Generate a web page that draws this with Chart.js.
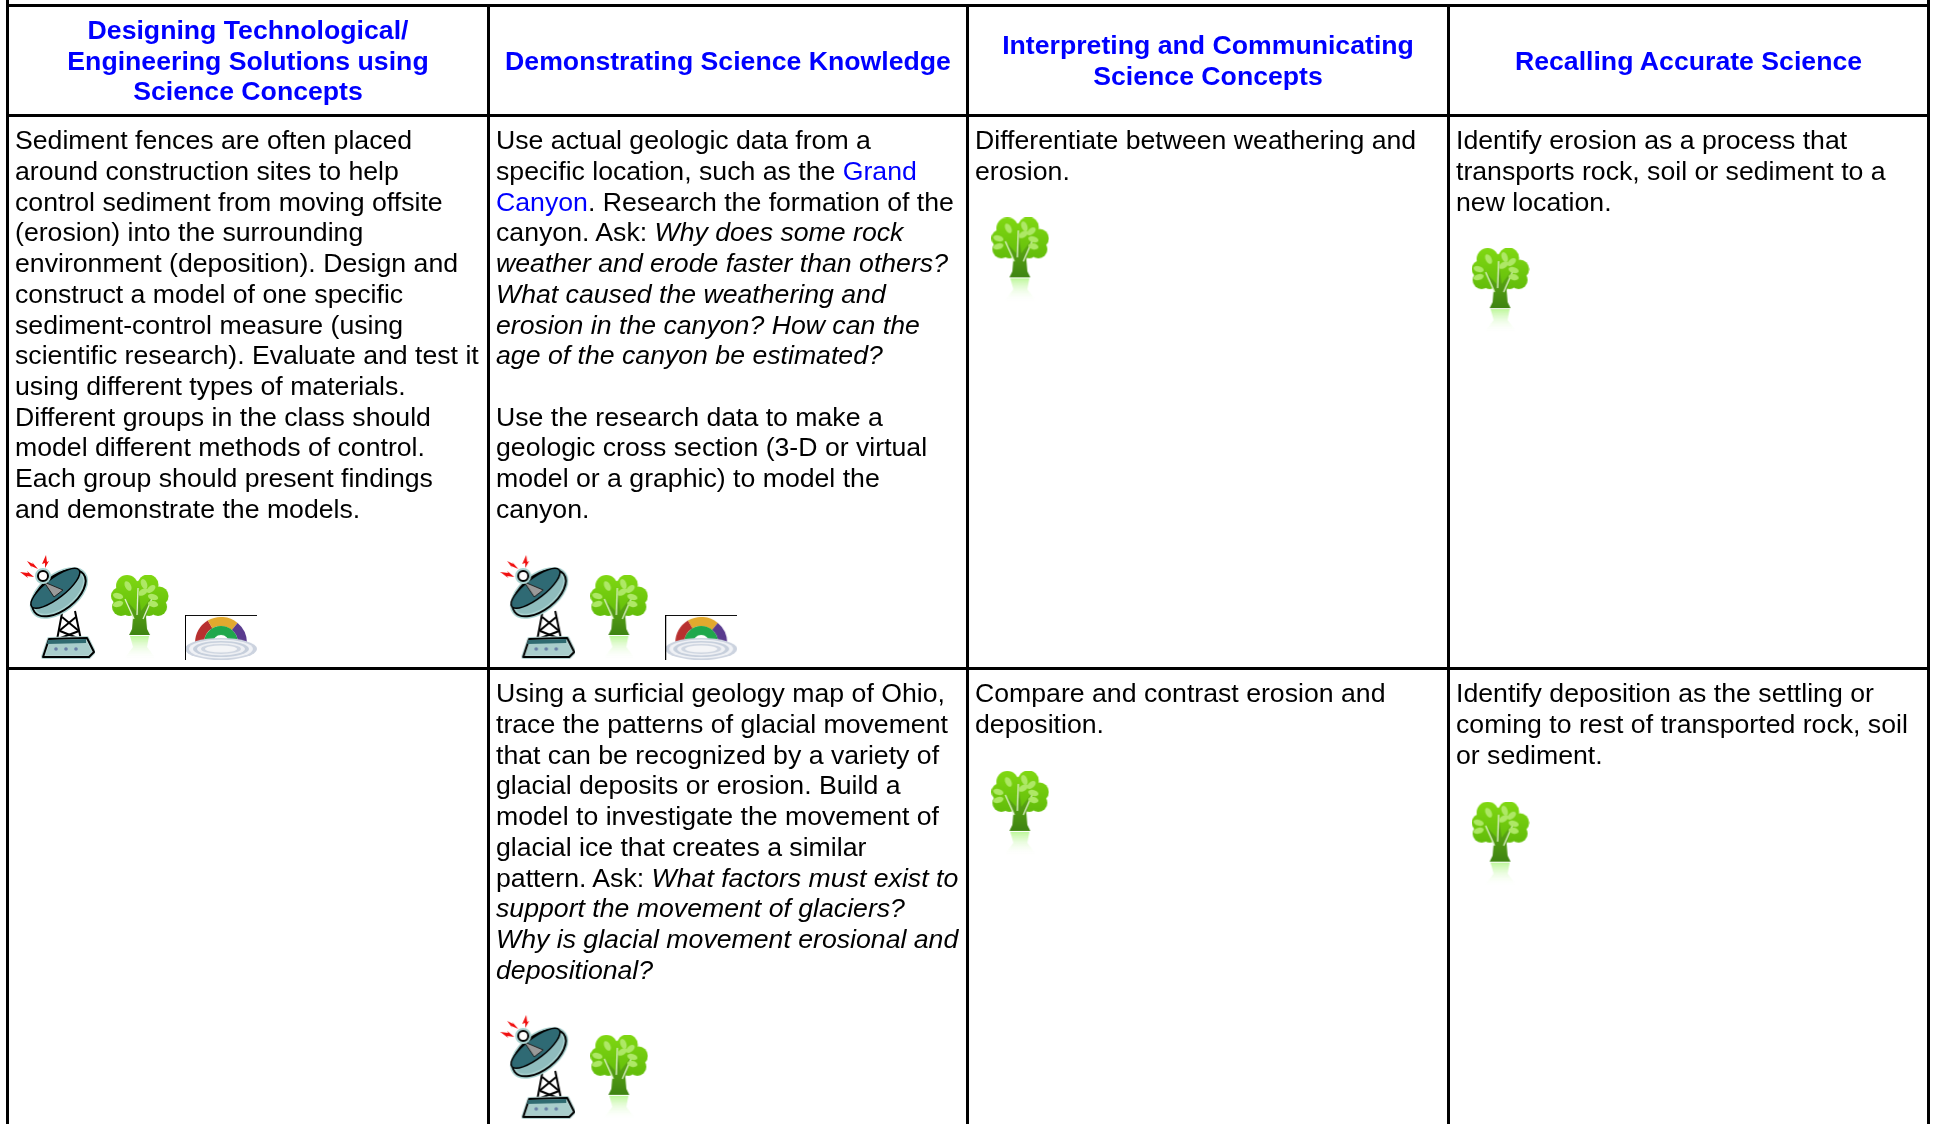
<!DOCTYPE html>
<html>
<head>
<meta charset="utf-8">
<title>Erosion and deposition assessment table</title>
<script src="https://cdn.jsdelivr.net/npm/chart.js@4/dist/chart.umd.min.js"></script>
<style>
  html, body { margin: 0; padding: 0; background: #fff; overflow: hidden; }
  canvas { display: block; }
</style>
</head>
<body>
<canvas id="chart" width="1933" height="1124"></canvas>
<script>
// table content. _x_ is italic, {x} is the blue link
const headers = [
  ["Designing Technological/", "Engineering Solutions using", "Science Concepts"],
  ["Demonstrating Science Knowledge"],
  ["Interpreting and Communicating", "Science Concepts"],
  ["Recalling Accurate Science"]
];

const row1Col1 = [
  "Sediment fences are often placed",
  "around construction sites to help",
  "control sediment from moving offsite",
  "(erosion) into the surrounding",
  "environment (deposition). Design and",
  "construct a model of one specific",
  "sediment-control measure (using",
  "scientific research). Evaluate and test it",
  "using different types of materials.",
  "Different groups in the class should",
  "model different methods of control.",
  "Each group should present findings",
  "and demonstrate the models."
];
const row1Col2 = [
  "Use actual geologic data from a",
  "specific location, such as the {Grand}",
  "{Canyon}. Research the formation of the",
  "canyon. Ask: _Why does some rock_",
  "_weather and erode faster than others?_",
  "_What caused the weathering and_",
  "_erosion in the canyon? How can the_",
  "_age of the canyon be estimated?_",
  "",
  "Use the research data to make a",
  "geologic cross section (3-D or virtual",
  "model or a graphic) to model the",
  "canyon."
];
const row1Col3 = ["Differentiate between weathering and", "erosion."];
const row1Col4 = [
  "Identify erosion as a process that",
  "transports rock, soil or sediment to a",
  "new location."
];
const row2Col1 = [];
const row2Col2 = [
  "Using a surficial geology map of Ohio,",
  "trace the patterns of glacial movement",
  "that can be recognized by a variety of",
  "glacial deposits or erosion. Build a",
  "model to investigate the movement of",
  "glacial ice that creates a similar",
  "pattern. Ask: _What factors must exist to_",
  "_support the movement of glaciers?_",
  "_Why is glacial movement erosional and_",
  "_depositional?_"
];
const row2Col3 = ["Compare and contrast erosion and", "deposition."];
const row2Col4 = [
  "Identify deposition as the settling or",
  "coming to rest of transported rock, soil",
  "or sediment."
];

// x is in columns, y is in text lines from the top rule
const colRules = [0, 1.00156, 1.99896, 3.00052, 4];
const rowRules = [0, 3.5807, 21.582];

const dishX = [0.104, 1.104, 1.104];
const dishY = [19.58, 19.58, 34.55];
const treeX = [0.276, 1.274, 1.274, 2.109, 3.109, 2.109, 3.109];
const treeY = [19.92, 19.92, 34.89, 8.28, 9.28, 26.30, 27.30];
const arcX = [0.4445, 1.4445];
const arcY = [20.57, 20.57];

const LINE_H = 30.72;
const COL_W = 480.25;
const FONT = '26.67px "Liberation Sans", Arial, sans-serif';
const BLUE = "#0000ff";

function poly(ctx, pts) {
  ctx.beginPath();
  pts.forEach((p, i) => i ? ctx.lineTo(p[0], p[1]) : ctx.moveTo(p[0], p[1]));
  ctx.closePath();
}

function makeCanvas(w, h) {
  const c = document.createElement("canvas");
  c.width = w;
  c.height = h;
  return c;
}

function drawDish() {
  const c = makeCanvas(75, 104);
  const ctx = c.getContext("2d");
  ctx.lineJoin = "round";

  // sparks
  ctx.fillStyle = "#f01010";
  poly(ctx, [[7, 6], [13, 9], [12, 7], [18, 14], [11, 11], [12, 13]]); ctx.fill();
  poly(ctx, [[26, 0], [27, 7], [29, 6], [25, 13], [25, 8], [22, 9]]); ctx.fill();
  poly(ctx, [[0, 17], [8, 18], [7, 16], [14, 22], [7, 21], [8, 23]]); ctx.fill();

  // tower
  ctx.strokeStyle = "#000";
  ctx.lineWidth = 2;
  [[[42, 58], [37, 85]], [[55, 56], [61, 85]], [[42, 62], [59, 76]], [[56, 62], [39, 76]], [[40, 76], [60, 84]], [[59, 76], [38, 84]]].forEach(s => {
    ctx.beginPath();
    ctx.moveTo(s[0][0], s[0][1]);
    ctx.lineTo(s[1][0], s[1][1]);
    ctx.stroke();
  });

  // base
  poly(ctx, [[23, 102], [29, 84], [67, 83], [74, 97], [69, 102]]);
  ctx.fillStyle = "#a9cdcb";
  ctx.fill();
  ctx.strokeStyle = "#b7d5d3";
  ctx.lineWidth = 4;
  ctx.stroke();
  ctx.strokeStyle = "#000";
  ctx.lineWidth = 2;
  ctx.stroke();
  poly(ctx, [[28, 85], [66, 84], [66, 88], [27, 89]]);
  ctx.fillStyle = "#2f6a70";
  ctx.fill();
  ctx.fillStyle = "#6a7fa8";
  [36, 46, 56].forEach(x => {
    ctx.beginPath();
    ctx.arc(x, 94, 1.8, 0, Math.PI * 2);
    ctx.fill();
  });

  // bowl
  ctx.save();
  ctx.translate(39, 38);
  ctx.rotate(-0.66);
  ctx.beginPath();
  ctx.ellipse(0, 0, 31, 17, 0, 0, Math.PI * 2);
  ctx.fillStyle = "#8fbcbd";
  ctx.fill();
  ctx.strokeStyle = "#a9d2d0";
  ctx.lineWidth = 5;
  ctx.stroke();
  ctx.beginPath();
  ctx.ellipse(0, 0, 31, 17, 0, 0, Math.PI * 2);
  ctx.strokeStyle = "#000";
  ctx.lineWidth = 2;
  ctx.stroke();
  ctx.beginPath();
  ctx.ellipse(0, -6, 30, 10, 0, 0, Math.PI * 2);
  ctx.fillStyle = "#2f6a74";
  ctx.fill();
  ctx.strokeStyle = "#000";
  ctx.lineWidth = 1.5;
  ctx.stroke();
  ctx.restore();

  // feed arm and ball
  poly(ctx, [[24, 27], [43, 35], [34, 42]]);
  ctx.fillStyle = "#9a9a9a";
  ctx.fill();
  ctx.strokeStyle = "#222";
  ctx.lineWidth = 1;
  ctx.stroke();
  ctx.beginPath();
  ctx.arc(23, 21, 6, 0, Math.PI * 2);
  ctx.fillStyle = "#fff";
  ctx.fill();
  ctx.strokeStyle = "#a9d2d0";
  ctx.lineWidth = 4;
  ctx.stroke();
  ctx.beginPath();
  ctx.arc(23, 21, 5, 0, Math.PI * 2);
  ctx.fillStyle = "#fff";
  ctx.fill();
  ctx.strokeStyle = "#000";
  ctx.lineWidth = 2;
  ctx.stroke();
  return c;
}

function drawTree() {
  const c = makeCanvas(58, 85);
  const ctx = c.getContext("2d");
  const lobes = [[16, 11, 11], [37, 10, 10.5], [48, 21, 9.5], [47, 32, 9], [9, 21, 9], [10, 32, 9], [28, 22, 16], [18, 34, 7], [38, 34, 7]];
  const crown = ctx.createLinearGradient(0, 0, 0, 42);
  crown.addColorStop(0, "#80d812");
  crown.addColorStop(1, "#62bc0a");
  ctx.fillStyle = crown;
  lobes.forEach(l => {
    ctx.beginPath();
    ctx.arc(l[0], l[1], l[2], 0, Math.PI * 2);
    ctx.fill();
  });

  // trunk
  const trunk = ctx.createLinearGradient(0, 20, 0, 60);
  trunk.addColorStop(0, "#62b012");
  trunk.addColorStop(1, "#3f8412");
  ctx.fillStyle = trunk;
  poly(ctx, [[18, 60], [21, 54], [22, 42], [14, 24], [25, 36], [27, 12], [30, 36], [42, 20], [35, 42], [36, 54], [39, 60]]);
  ctx.fill();
  ctx.strokeStyle = "#e4f6d0";
  ctx.lineWidth = 1.3;
  [[[14, 24], [23, 44]], [[27, 13], [26, 40]], [[42, 21], [32, 44]]].forEach(s => {
    ctx.beginPath();
    ctx.moveTo(s[0][0], s[0][1]);
    ctx.lineTo(s[1][0], s[1][1]);
    ctx.stroke();
  });

  // leaves
  ctx.fillStyle = "#aee866";
  [[17, 11, 1.1], [33, 9, 1.2], [40, 14, -0.7], [32, 17, -0.6], [7, 21, 0.3], [42, 22, 0.3], [7, 29, -0.3], [42, 29, 0.2]].forEach(l => {
    ctx.beginPath();
    ctx.ellipse(l[0], l[1], 5.2, 3, l[2], 0, Math.PI * 2);
    ctx.fill();
  });

  // reflection
  const refl = ctx.createLinearGradient(0, 61, 0, 85);
  refl.addColorStop(0, "#bdf79a");
  refl.addColorStop(1, "rgba(255,255,255,0)");
  ctx.fillStyle = refl;
  poly(ctx, [[19, 61], [38, 61], [36, 72], [46, 85], [12, 85], [22, 72]]);
  ctx.fill();
  return c;
}

function drawArc() {
  const c = makeCanvas(72, 45);
  const ctx = c.getContext("2d");
  const cx = 36, cy = 28;

  const seg = (r0, r1, a0, a1, col) => {
    ctx.beginPath();
    ctx.arc(cx, cy, r1, a0, a1);
    ctx.arc(cx, cy, r0, a1, a0, true);
    ctx.closePath();
    ctx.fillStyle = col;
    ctx.fill();
  };
  seg(17, 26, Math.PI, Math.PI * 1.33, "#b8302f");
  seg(17, 26, Math.PI * 1.33, Math.PI * 1.72, "#e2a92e");
  seg(17, 26, Math.PI * 1.72, Math.PI * 2, "#5a3b8e");
  seg(8, 17, Math.PI, Math.PI * 2, "#1fa84c");

  // rings at the foot, over the arch
  ["#ccd3df", "#f0f2f6", "#c6cfdc", "#eef0f4", "#cfd6e1", "#f4f5f7"].forEach((col, i) => {
    ctx.beginPath();
    ctx.ellipse(cx, 34, 36 - i * 4, 11 - i * 1.5, 0, 0, Math.PI * 2);
    ctx.fillStyle = col;
    ctx.fill();
  });

  // image border, top and left only
  ctx.fillStyle = "#000";
  ctx.fillRect(0, 0, 72, 1);
  ctx.fillRect(0, 0, 1, 45);
  return c;
}

function drawRuns(ctx, text, x, y, bold) {
  // split a line into plain, italic and link parts, left to right
  text.split(/(_[^_]*_|\{[^}]*\})/).forEach(part => {
    if (!part) return;
    let style = bold ? "bold " : "";
    let col = "#000";
    let str = part;
    if (part[0] === "_") { style = "italic "; str = part.slice(1, -1); }
    if (part[0] === "{") { col = BLUE; str = part.slice(1, -1); }
    ctx.font = style + FONT;
    ctx.fillStyle = col;
    ctx.fillText(str, x, y);
    x += ctx.measureText(str).width;
  });
}

const tableText = {
  id: "tableText",
  afterDatasetsDraw(chart) {
    const { ctx, scales } = chart;
    ctx.save();
    ctx.textBaseline = "alphabetic";
    ctx.fontKerning = "normal";

    // header cells are centred in the header row
    ctx.fillStyle = BLUE;
    ctx.font = "bold " + FONT;
    ctx.textAlign = "center";
    headers.forEach((lines, c) => {
      const mid = scales.x.getPixelForValue((colRules[c] + colRules[c + 1]) / 2);
      const first = 2.09 - (lines.length - 1) / 2;
      lines.forEach((t, i) => {
        ctx.fillText(t, mid, scales.y.getPixelForValue(first + i));
      });
    });

    ctx.textAlign = "left";
    [[row1Col1, row1Col2, row1Col3, row1Col4], [row2Col1, row2Col2, row2Col3, row2Col4]].forEach((cells, r) => {
      cells.forEach((lines, c) => {
        const x = scales.x.getPixelForValue(colRules[c]) + 7.5;
        lines.forEach((t, i) => {
          drawRuns(ctx, t, x, scales.y.getPixelForValue(rowRules[r + 1] + 1.1 + i), false);
        });
      });
    });
    ctx.restore();
  }
};

const xMin = -7.5 / COL_W;
const xMax = (1933 - 7.5) / COL_W;
const yMin = -5.5 / LINE_H;
const yMax = (1124 - 5.5) / LINE_H;

function rule(points) {
  return {
    data: points,
    showLine: true,
    borderColor: "#000",
    borderWidth: 3,
    pointRadius: 0,
    parsing: false
  };
}

function icons(xs, ys, style) {
  return {
    data: xs.map((x, i) => ({ x, y: ys[i] })),
    showLine: false,
    pointStyle: style,
    pointRadius: 10,
    parsing: false
  };
}

const vertical = colRules.map((x, i) => {
  const top = i === 0 || i === colRules.length - 1 ? yMin : 0;
  return rule([{ x, y: top }, { x, y: yMax }]);
});
const horizontal = rowRules.map(y => rule([{ x: colRules[0], y }, { x: colRules[4], y }]));

new Chart(document.getElementById("chart"), {
  type: "scatter",
  data: {
    datasets: [
      ...vertical,
      ...horizontal,
      icons(dishX, dishY, drawDish()),
      icons(treeX, treeY, drawTree()),
      icons(arcX, arcY, drawArc())
    ]
  },
  options: {
    responsive: false,
    animation: false,
    layout: { padding: 0, autoPadding: false },
    plugins: { legend: { display: false }, tooltip: { enabled: false }, title: { display: false } },
    scales: {
      x: { type: "linear", display: false, min: xMin, max: xMax },
      y: { type: "linear", display: false, reverse: true, min: yMin, max: yMax }
    }
  },
  plugins: [tableText]
});
</script>
</body>
</html>
